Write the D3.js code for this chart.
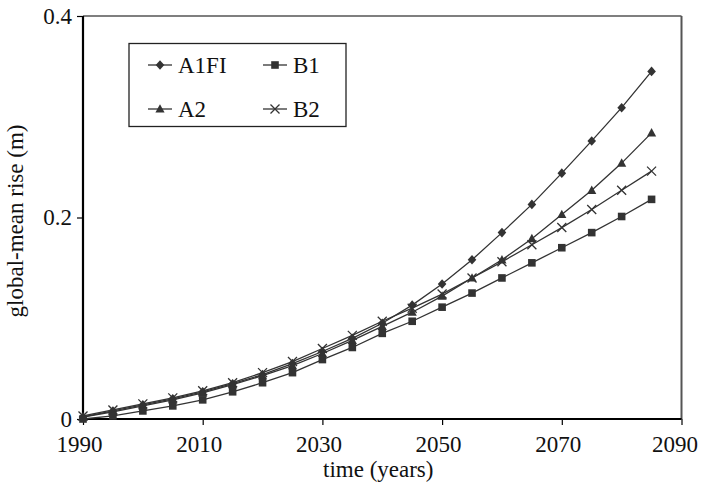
<!DOCTYPE html>
<html>
<head>
<meta charset="utf-8">
<script src="https://cdn.jsdelivr.net/npm/d3@7"></script>
<style>
  html, body { margin: 0; padding: 0; background: #fff; }
  svg { display: block; }
  svg text { font-family: 'Liberation Serif', 'Times New Roman', serif; }
</style>
</head>
<body>
<svg id="chart" width="703" height="492"></svg>
<script>
// Projected global-mean sea level rise by SRES scenario
const years = [1990, 1995, 2000, 2005, 2010, 2015, 2020, 2025, 2030, 2035,
               2040, 2045, 2050, 2055, 2060, 2065, 2070, 2075, 2080, 2085];
const a1fi = [0.002, 0.008, 0.014, 0.020, 0.027, 0.035, 0.044, 0.055, 0.067, 0.080,
              0.095, 0.113, 0.134, 0.158, 0.185, 0.213, 0.244, 0.276, 0.309, 0.345];
const a2   = [0.002, 0.007, 0.013, 0.019, 0.026, 0.034, 0.043, 0.053, 0.065, 0.078,
              0.092, 0.106, 0.122, 0.140, 0.158, 0.179, 0.203, 0.227, 0.254, 0.284];
const b1   = [0.000, 0.003, 0.008, 0.013, 0.019, 0.027, 0.036, 0.046, 0.059, 0.071,
              0.085, 0.097, 0.111, 0.125, 0.140, 0.155, 0.170, 0.185, 0.201, 0.218];
const b2   = [0.003, 0.009, 0.015, 0.021, 0.028, 0.036, 0.046, 0.057, 0.070, 0.083,
              0.097, 0.110, 0.124, 0.140, 0.156, 0.173, 0.190, 0.208, 0.227, 0.246];
const xTicks = [1990, 2010, 2030, 2050, 2070, 2090];
const yTicks = [0, 0.2, 0.4];
const yTickLabels = ["0", "0.2", "0.4"];

const series = [
  { name: "A1FI", values: a1fi, marker: "diamond" },
  { name: "A2",   values: a2,   marker: "triangle" },
  { name: "B1",   values: b1,   marker: "square" },
  { name: "B2",   values: b2,   marker: "cross" }
];

const ink = "#333";
const svg = d3.select("#chart");
const plotL = 83, plotR = 681.5, plotT = 16, plotB = 419;

const x = d3.scaleLinear().domain([1990, 2090]).range([plotL, plotR]);
const y = d3.scaleLinear().domain([0, 0.4]).range([plotB, plotT]);

// Frame: top and right edges in grey
svg.append("line").attr("x1", plotL).attr("x2", plotR).attr("y1", plotT).attr("y2", plotT)
  .attr("stroke", "#555").attr("stroke-width", 1.5);
svg.append("line").attr("x1", plotR).attr("x2", plotR).attr("y1", plotT).attr("y2", plotB)
  .attr("stroke", "#555").attr("stroke-width", 2);

// Axes
const xAxis = svg.append("g").attr("transform", `translate(0,${plotB})`)
  .call(d3.axisBottom(x).tickValues(xTicks).tickFormat(d3.format("d")).tickSize(6).tickPadding(6));
const yAxis = svg.append("g").attr("transform", `translate(${plotL},0)`)
  .call(d3.axisLeft(y).tickValues(yTicks).tickFormat((d, i) => yTickLabels[i]).tickSize(6).tickPadding(5));

[xAxis, yAxis].forEach(g => {
  g.select(".domain").attr("stroke", "#000").attr("stroke-width", 2.2);
  g.selectAll(".tick line").attr("stroke", "#000").attr("stroke-width", 1.2);
  g.selectAll(".tick text").attr("fill", "#111").attr("font-size", 23)
    .attr("font-family", null);
});
// Year labels sit slightly left of their ticks; the last one is pulled in from the edge
xAxis.selectAll(".tick text").attr("dy", "0.9em")
  .attr("x", d => d === 2090 ? -7 : -4);
yAxis.select(".domain").attr("d", `M0,${plotB}V${plotT}`);
xAxis.select(".domain").attr("d", `M${plotL},0H${plotR}`);

// Axis titles
svg.append("text").attr("x", (plotL + plotR) / 2 - 4).attr("y", 477)
  .attr("text-anchor", "middle").attr("font-size", 23).attr("fill", "#111")
  .text("time (years)");
svg.append("text").attr("transform", `translate(23,221) rotate(-90)`)
  .attr("text-anchor", "middle").attr("font-size", 23).attr("fill", "#111")
  .text("global-mean rise (m)");

// Marker shapes
function markerPath(type) {
  switch (type) {
    case "diamond":  return "M0,-4.8L4.3,0L0,4.8L-4.3,0Z";
    case "triangle": return "M0,-4.8L4.6,3.6L-4.6,3.6Z";
    case "square":   return "M-3.8,-3.8H3.8V3.8H-3.8Z";
    case "cross":    return "M-4.5,-4.5L4.5,4.5M-4.5,4.5L4.5,-4.5";
  }
}
function drawMarker(g, type, cx, cy) {
  const p = g.append("path").attr("d", markerPath(type))
    .attr("transform", `translate(${cx},${cy})`);
  if (type === "cross") p.attr("fill", "none").attr("stroke", ink).attr("stroke-width", 1.3);
  else p.attr("fill", ink).attr("stroke", "none");
}

const line = d3.line().x((d, i) => x(years[i])).y(d => y(d));

const plot = svg.append("g");
series.forEach(s => {
  plot.append("path").datum(s.values).attr("d", line)
    .attr("fill", "none").attr("stroke", ink).attr("stroke-width", 1.3);
});
series.forEach(s => {
  const g = plot.append("g");
  s.values.forEach((v, i) => drawMarker(g, s.marker, x(years[i]), y(v)));
});

// Legend
const legend = svg.append("g");
legend.append("rect").attr("x", 129).attr("y", 43.5).attr("width", 217).attr("height", 83)
  .attr("fill", "#fff").attr("stroke", "#222").attr("stroke-width", 1.3);
const legendRows = [
  { s: series[0], lx: 148, ly: 65 },
  { s: series[2], lx: 263, ly: 65 },
  { s: series[1], lx: 148, ly: 109 },
  { s: series[3], lx: 263, ly: 109 }
];
legendRows.forEach(r => {
  legend.append("line").attr("x1", r.lx).attr("x2", r.lx + 24)
    .attr("y1", r.ly).attr("y2", r.ly).attr("stroke", ink).attr("stroke-width", 1.3);
  drawMarker(legend, r.s.marker, r.lx + 12, r.ly);
  legend.append("text").attr("x", r.lx + 30).attr("y", r.ly + 8)
    .attr("font-size", 23).attr("fill", "#111").text(r.s.name);
});
</script>
</body>
</html>
